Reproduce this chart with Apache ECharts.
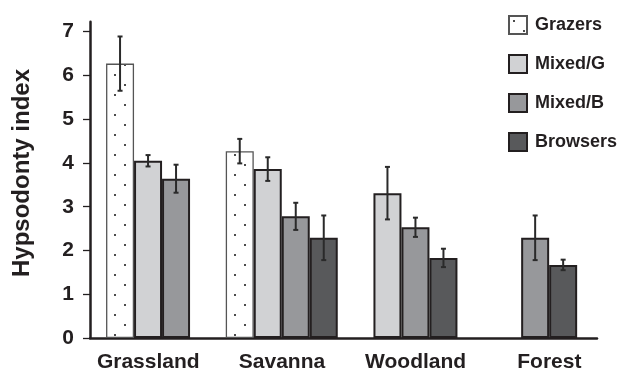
<!DOCTYPE html>
<html><head><meta charset="utf-8">
<script src="https://cdn.jsdelivr.net/npm/echarts@6/dist/echarts.min.js"></script>
<style>html,body{margin:0;padding:0;background:#fff}#c{width:622px;height:375px}</style>
</head><body><div id="c"></div>
<script>
const categories = ['Grassland', 'Savanna', 'Woodland', 'Forest'];
const seriesNames = ['Grazers', 'Mixed/G', 'Mixed/B', 'Browsers'];
const grazers = [6.27, 4.27, null, null];
const grazersErr = [0.62, 0.28, null, null];
const mixedG = [4.05, 3.86, 3.31, null];
const mixedGErr = [0.13, 0.27, 0.60, null];
const mixedB = [3.64, 2.78, 2.53, 2.29];
const mixedBErr = [0.32, 0.31, 0.22, 0.51];
const browsers = [null, 2.29, 1.83, 1.67];
const browsersErr = [null, 0.51, 0.21, 0.12];
const yTicks = [0, 1, 2, 3, 4, 5, 6, 7];

const BAR_W = 28;
const INK = '#231f20';

// dotted pattern for grazers
const pc = document.createElement('canvas');
pc.width = 20; pc.height = 20;
const g = pc.getContext('2d');
g.fillStyle = '#ffffff'; g.fillRect(0, 0, 20, 20);
g.fillStyle = '#111';
g.beginPath(); g.arc(5, 5, 1.0, 0, Math.PI * 2); g.fill();
g.beginPath(); g.arc(15, 15, 1.0, 0, Math.PI * 2); g.fill();
const dotPattern = { image: pc, repeat: 'repeat' };

const styles = [
  { color: dotPattern, borderColor: '#555', borderWidth: 1.3 },
  { color: '#d1d2d4', borderColor: INK, borderWidth: 2 },
  { color: '#97989b', borderColor: INK, borderWidth: 2 },
  { color: '#58595b', borderColor: INK, borderWidth: 2 }
];
const values = [grazers, mixedG, mixedB, browsers];
const errors = [grazersErr, mixedGErr, mixedBErr, browsersErr];

const gridTop = 21.7, gridBottom = 375 - 338;
const yMax = 7.228;

function errSeries(vals, errs, k) {
  const data = [];
  vals.forEach((v, i) => { if (v != null) data.push([i, v - errs[i], v + errs[i]]); });
  return {
    type: 'custom', xAxisIndex: 1, yAxisIndex: 1, z: 10, silent: true, data,
    encode: { x: 0, y: [1, 2] },
    renderItem(params, api) {
      const c = api.value(0);
      const lo = api.coord([c, api.value(1)]);
      const hi = api.coord([c, api.value(2)]);
      const x = lo[0] + (k - 1.5) * BAR_W;
      const cap = 2.5;
      const st = { stroke: '#2a2a2a', lineWidth: 2 };
      return {
        type: 'group', children: [
          { type: 'line', shape: { x1: x, y1: lo[1], x2: x, y2: hi[1] }, style: st },
          { type: 'line', shape: { x1: x - cap, y1: lo[1], x2: x + cap, y2: lo[1] }, style: st },
          { type: 'line', shape: { x1: x - cap, y1: hi[1], x2: x + cap, y2: hi[1] }, style: st }
        ]
      };
    }
  };
}

const series = [];
values.forEach((vals, k) => {
  series.push({
    name: seriesNames[k], type: 'bar', xAxisIndex: 1, yAxisIndex: 1,
    barWidth: BAR_W, barGap: '0%', data: vals, itemStyle: styles[k], silent: true
  });
});
values.forEach((vals, k) => series.push(errSeries(vals, errors[k], k)));

const chart = echarts.init(document.getElementById('c'), null, { renderer: 'canvas' });
chart.setOption({
  animation: false,
  backgroundColor: '#fff',
  grid: [
    { left: 90, width: 507, top: gridTop, bottom: gridBottom },
    { left: 102.2, width: 478.8, top: gridTop, bottom: gridBottom },
    { left: 81.4, width: 534.8, top: gridTop, bottom: gridBottom }
  ],
  xAxis: [
    { type: 'category', gridIndex: 0, data: categories,
      axisLine: { lineStyle: { color: INK, width: 2.5 } },
      axisTick: { show: false }, axisLabel: { show: false } },
    { type: 'category', gridIndex: 1, data: categories, show: false },
    { type: 'category', gridIndex: 2, data: categories,
      axisLine: { show: false }, axisTick: { show: false },
      axisLabel: { margin: 14, fontSize: 21, fontWeight: 'bold', color: INK, fontFamily: 'Liberation Sans' } }
  ],
  yAxis: [
    { type: 'value', gridIndex: 0, min: 0, max: yMax, interval: 1,
      splitLine: { show: false },
      axisLine: { show: true, lineStyle: { color: INK, width: 2.5 } },
      axisTick: { show: true, length: 7, customValues: yTicks, lineStyle: { color: INK, width: 1.3 } },
      axisLabel: { customValues: yTicks, margin: 16, fontSize: 21, fontWeight: 'bold', color: INK, fontFamily: 'Liberation Sans' } },
    { type: 'value', gridIndex: 1, min: 0, max: yMax, show: false, splitLine: { show: false } },
    { type: 'value', gridIndex: 2, min: 0, max: yMax, show: false, splitLine: { show: false } }
  ],
  legend: {
    data: seriesNames, orient: 'vertical', left: 503, top: 10,
    itemWidth: 18, itemHeight: 18, itemGap: 19, icon: 'rect',
    textStyle: { fontSize: 18, fontWeight: 'bold', color: INK, fontFamily: 'Liberation Sans', padding: [0, 0, 0, 3] }
  },
  graphic: [{
    type: 'text', x: 22, y: 173, rotation: Math.PI / 2,
    style: { text: 'Hypsodonty index', font: 'bold 24px "Liberation Sans"', fill: INK, align: 'center', verticalAlign: 'middle' }
  }],
  series
});
</script></body></html>
